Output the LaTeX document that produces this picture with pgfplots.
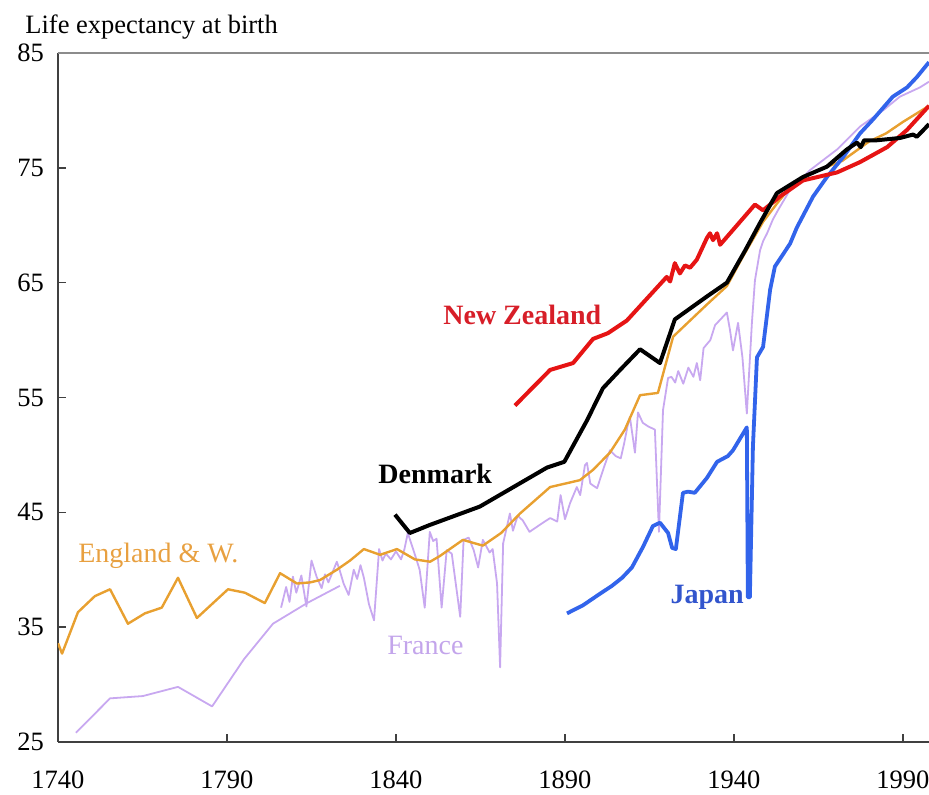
\documentclass[border=0pt]{standalone}
\usepackage{pgfplots}
\pgfplotsset{compat=1.18}
\usepackage{fontspec}
\setmainfont{Liberation Serif}
\definecolor{eng}{RGB}{232,160,48}
\definecolor{fra}{RGB}{200,168,240}
\definecolor{nz}{RGB}{230,20,20}
\definecolor{jap}{RGB}{50,100,235}
\definecolor{nztxt}{RGB}{215,30,40}
\definecolor{japtxt}{RGB}{50,85,205}
\definecolor{engtxt}{RGB}{232,160,64}
\definecolor{fratxt}{RGB}{195,165,235}
\begin{document}
\begin{tikzpicture}
\begin{axis}[
  name=ax,
  scale only axis,
  width=435.5pt, height=344.5pt,
  xmin=1740, xmax=1997.7, ymin=25, ymax=85,
  xtick={1740,1790,1840,1890,1940,1990},
  ytick={25,35,45,55,65,75,85},
  axis x line*=bottom, axis y line*=left,
  axis line style={-, draw=black!75, line width=0.9pt},
  tick align=inside,
  major tick length=4pt,
  tick style={draw=black!75, line width=0.8pt},
  /pgf/number format/assume math mode=true,
  /pgf/number format/1000 sep={},
  tick label style={font=\fontsize{13.25}{15}\selectfont},
  xticklabel style={yshift=-11pt},
  yticklabel style={xshift=-3.5pt},
  title={Life expectancy at birth},
  title style={at={(0,1)}, anchor=base west, xshift=-16.5pt, yshift=3.5pt, inner sep=0pt, font=\fontsize{13.25}{15}\selectfont},
  clip=true,
  every axis plot/.append style={line join=round},
]
\draw[black!45, line width=0.9pt] (rel axis cs:0,1) -- (rel axis cs:1,1);

% France, early smooth estimate
\addplot[fra, line width=0.9pt] coordinates {
(1745.3,25.8) (1755.4,28.8) (1765.1,29.0) (1775.5,29.8) (1785.6,28.1)
(1795,32.2) (1803.6,35.3) (1813.7,37.1) (1823.4,38.6)
};
% France, annual
\addplot[fra, line width=0.9pt] coordinates {
(1806,36.7) (1807.5,38.5) (1808.5,37.2) (1809.5,39.4) (1810.5,38.0)
(1812,39.5) (1813.5,36.8) (1815,40.8) (1816.5,39.4) (1818,38.4)
(1819,39.6) (1820,38.9) (1822.5,40.7) (1823.5,39.8) (1824.5,38.8)
(1826,37.8) (1827.5,40.0) (1828.5,39.2) (1829.5,40.4) (1830.5,39.3)
(1832,37.0) (1833.5,35.6) (1835,41.8) (1836,40.8) (1837,41.4)
(1838.5,40.9) (1840,41.6) (1841.5,40.9) (1842.5,41.8) (1843.5,43.2)
(1845.5,41.4) (1847,40.0) (1848.5,36.7) (1850,43.3) (1851,42.5)
(1852,42.7) (1853.5,36.7) (1855,41.7) (1856.5,41.4) (1859,35.9)
(1860,42.6) (1861.5,42.8) (1863,41.7) (1864.3,40.2) (1865.7,42.6)
(1866.8,42.0) (1867.7,41.5) (1868.6,41.8) (1869.9,38.8) (1870.8,31.5)
(1871.7,42.3) (1873.7,44.9) (1874.6,43.4) (1876,44.7) (1877.5,44.3)
(1879.5,43.3) (1881.5,43.7) (1883.5,44.1) (1885.6,44.5) (1887.7,44.2)
(1888.7,46.5) (1890,44.4) (1891.5,45.8) (1893.5,47.2) (1894.5,46.5)
(1895.9,49.1) (1896.5,49.3) (1897.5,47.5) (1899.5,47.1) (1901.5,48.9)
(1903.3,50.4) (1905,49.9) (1906.5,49.7) (1907.5,51.0) (1908.5,52.5)
(1909.2,53.3) (1910.7,50.2) (1911.6,53.7) (1913,52.8) (1914.5,52.5)
(1916.6,52.2) (1917.8,43.3) (1919,53.9) (1920.5,56.7) (1921.5,56.8)
(1922.6,56.3) (1923.5,57.3) (1925,56.2) (1926.5,57.6) (1928,56.8)
(1929,58.0) (1930,56.5) (1931,59.3) (1933,60.0) (1934.4,61.3)
(1936,61.8) (1937.9,62.4) (1938.8,60.9) (1939.7,59.1) (1941.2,61.5)
(1942.5,58.5) (1943.8,53.6) (1945.3,61.5) (1946.2,65.2) (1947.7,67.8)
(1948.6,68.6) (1949.8,69.3) (1951.5,70.5) (1953,71.3) (1956.6,73.1)
(1962.5,74.8) (1970.5,76.6) (1977.3,78.6) (1984.1,80.0) (1989.1,81.2)
(1995,82.0) (1997.7,82.5)
};
% England & Wales
\addplot[eng, line width=1.2pt] coordinates {
(1740,33.6) (1741.2,32.7) (1745.9,36.3) (1750.9,37.7) (1755.4,38.3)
(1760.7,35.3) (1765.7,36.2) (1770.7,36.7) (1775.5,39.3) (1781.1,35.8)
(1790.3,38.3) (1795.3,38.0) (1801.2,37.1) (1805.7,39.7) (1810.7,38.8)
(1814.6,38.9) (1817.5,39.1) (1822.5,40.0) (1826.4,40.8) (1830.5,41.8)
(1835.3,41.3) (1840.3,41.8) (1845.6,40.9) (1850.1,40.7) (1853,41.2)
(1859.8,42.6) (1865.7,42.1) (1871.1,43.2) (1876.7,44.9) (1885.6,47.2)
(1894.4,47.8) (1898.3,48.7) (1903.3,50.2) (1907.7,52.2) (1912.2,55.2)
(1917.5,55.4) (1922,60.3) (1932,63.1) (1937.9,64.7) (1942.7,67.3)
(1948.6,70.3) (1953,72.0) (1958,73.8) (1965,74.8) (1972,75.6)
(1980,77.3) (1985,78.0) (1990,79.0) (1997.7,80.4)
};
% Japan
\addplot[jap, line width=1.9pt] coordinates {
(1890.6,36.2) (1895.3,36.9) (1899.8,37.8) (1903.9,38.6) (1906.9,39.3)
(1909.8,40.2) (1913.1,42.0) (1916,43.8) (1918.1,44.1) (1920.5,43.2)
(1921.7,41.9) (1922.8,41.8) (1924.9,46.7) (1926.4,46.8) (1928.4,46.7)
(1932,48.0) (1935,49.4) (1938.2,49.9) (1939.7,50.4) (1943.8,52.4)
(1944.1,37.6) (1944.7,37.6) (1945.6,50.7) (1946.8,58.5) (1948.6,59.4)
(1950.7,64.4) (1952.1,66.4) (1956.6,68.4) (1958.6,69.8) (1963.4,72.5)
(1967.5,74.2) (1972.2,75.9) (1977.3,78.0) (1981.1,79.2) (1987,81.2)
(1991.2,82.0) (1994.1,82.9) (1997.7,84.2)
};
% New Zealand
\addplot[nz, line width=2pt] coordinates {
(1875.2,54.3) (1885.6,57.4) (1892.4,58.0) (1898.3,60.1) (1902.7,60.6)
(1908.3,61.7) (1920.1,65.5) (1921.1,65.1) (1922.5,66.7) (1924,65.8)
(1925.5,66.5) (1927,66.3) (1929,67.0) (1932,68.9) (1932.9,69.3)
(1933.8,68.7) (1935,69.3) (1935.9,68.3) (1946.2,71.8) (1948.6,71.3)
(1953.6,72.5) (1960.4,73.9) (1970.5,74.6) (1977.3,75.5) (1985.3,76.8)
(1991.2,78.3) (1997.7,80.4)
};
% Denmark
\addplot[black, line width=2pt] coordinates {
(1839.7,44.8) (1844.1,43.2) (1850,43.9) (1864.8,45.5) (1884.7,48.9)
(1889.8,49.4) (1896.5,53.0) (1901.2,55.8) (1906.3,57.4) (1912.2,59.2)
(1918.1,58.0) (1922.5,61.8) (1932,63.8) (1937.9,65.0) (1943.3,67.8)
(1947.7,70.2) (1952.7,72.8) (1960.4,74.2) (1967.5,75.1) (1973.4,76.6)
(1976.4,77.2) (1977.5,76.8) (1978.5,77.4) (1982.3,77.4) (1989.1,77.6)
(1993,77.9) (1994.1,77.7) (1997.7,78.8)
};

\node[anchor=base west, inner sep=0pt, text=nztxt, font=\fontsize{14}{16}\selectfont\bfseries] at (axis cs:1853.9,61.4) {New Zealand};
\node[anchor=base west, inner sep=0pt, text=black, font=\fontsize{14}{16}\selectfont\bfseries] at (axis cs:1834.7,47.5) {Denmark};
\node[anchor=base west, inner sep=0pt, text=engtxt, font=\fontsize{14}{16}\selectfont] at (axis cs:1745.9,40.6) {England \& W.};
\node[anchor=base west, inner sep=0pt, text=fratxt, font=\fontsize{14}{16}\selectfont] at (axis cs:1837.3,32.6) {France};
\node[anchor=base west, inner sep=0pt, text=japtxt, font=\fontsize{14}{16}\selectfont\bfseries] at (axis cs:1921.1,37.1) {Japan};
\end{axis}
\pgfresetboundingbox
\path[use as bounding box] ([xshift=-29pt,yshift=-26.5pt]ax.south west) rectangle ([yshift=26.5pt]ax.north east);
\end{tikzpicture}
\end{document}
